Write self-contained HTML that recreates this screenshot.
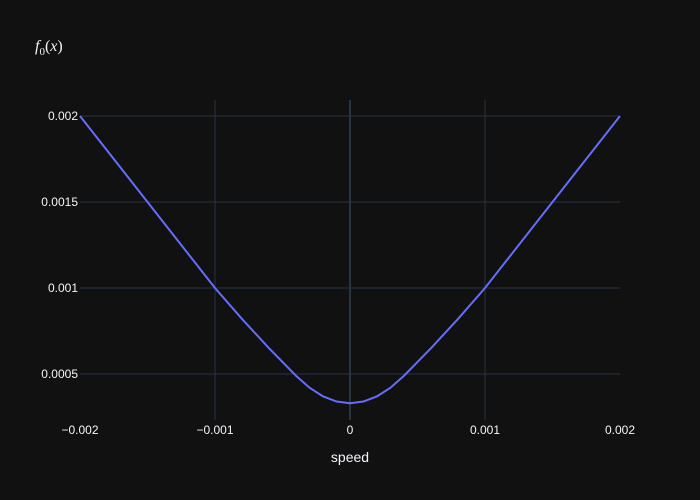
<!DOCTYPE html>
<html><head><meta charset="utf-8"><style>
body{margin:0;background:#111111;}
svg{display:block;font-family:"Liberation Sans",sans-serif;}
</style></head><body>
<svg id="chart" width="700" height="500">
<rect width="700" height="500" fill="#111111"/>
<text x="35" y="51" fill="#f2f5fa" font-size="16" font-family="Liberation Serif,serif" font-style="italic">f<tspan font-style="normal" font-size="11" dy="4">0</tspan><tspan font-style="normal" dy="-4">(</tspan>x<tspan font-style="normal">)</tspan></text>
<g id="grid"></g><g id="ticks"></g><g id="series"></g>
<text x="350" y="462" fill="#f2f5fa" font-size="14" text-anchor="middle">speed</text>
</svg>
<script>
const xs=[-0.002,-0.0015,-0.001,-0.0008,-0.0006,-0.0004,-0.0003,-0.0002,-0.0001,0,0.0001,0.0002,0.0003,0.0004,0.0006,0.0008,0.001,0.0015,0.002];
const ys=[0.002,0.0015,0.001,0.00082,0.00065,0.00049,0.00042,0.00037,0.00034,0.00033,0.00034,0.00037,0.00042,0.00049,0.00065,0.00082,0.001,0.0015,0.002];
const xTicks=[-0.002,-0.001,0,0.001,0.002];
const xTickLabels=["−0.002","−0.001","0","0.001","0.002"];
const yTicks=[0.0005,0.001,0.0015,0.002];
const yTickLabels=["0.0005","0.001","0.0015","0.002"];
const L=80,R=620,T=100,B=420;
const X=v=>L+(v+0.002)/0.004*(R-L);
const Y=v=>116+(0.002-v)/0.0005*86;
const ns="http://www.w3.org/2000/svg";
const g=document.getElementById('grid'),tk=document.getElementById('ticks'),s=document.getElementById('series');
function mk(tag,attrs,parent){const e=document.createElementNS(ns,tag);for(const k in attrs)e.setAttribute(k,attrs[k]);parent.appendChild(e);return e;}
xTicks.forEach((v,i)=>{
 const px=X(v);
 if(px>L+1&&px<R-1){
  const ln=mk('line',{x1:px,x2:px,y1:T,y2:B,stroke:'#283442','stroke-width':v===0?2:1},g);
  
  
 }
 const t=mk('text',{x:px,y:434,fill:'#f2f5fa','font-size':12,'text-anchor':'middle'},tk);
 t.textContent=xTickLabels[i];
 
 
});
yTicks.forEach((v,i)=>{
 const ln=mk('line',{x1:L,x2:R,y1:Y(v),y2:Y(v),stroke:'#283442','stroke-width':1},g);
 
 
 const t=mk('text',{x:78,y:Y(v)+4,fill:'#f2f5fa','font-size':12,'text-anchor':'end'},tk);
 t.textContent=yTickLabels[i];
 
 
});
const p=mk('polyline',{points:xs.map((x,i)=>X(x)+','+Y(ys[i])).join(' '),fill:'none',stroke:'#636efa','stroke-width':2},s);


</script>
</body></html>
